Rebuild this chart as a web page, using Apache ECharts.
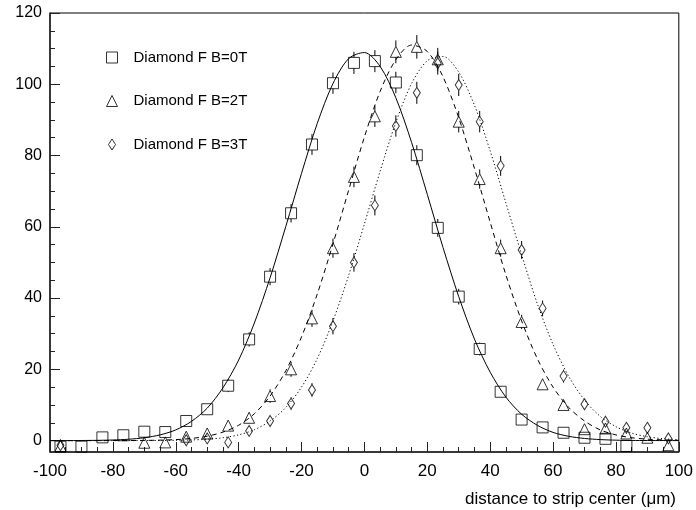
<!DOCTYPE html>
<html>
<head>
<meta charset="utf-8">
<script src="https://cdn.jsdelivr.net/npm/echarts@6/dist/echarts.min.js"></script>
<style>
html,body{margin:0;padding:0;background:#fff;}
#chart{width:696px;height:510px;}
</style>
</head>
<body>
<div id="chart"></div>
<script>
// Bin centres (distance to strip centre, µm)
var xBins = [-96.67,-90,-83.33,-76.67,-70,-63.33,-56.67,-50,-43.33,-36.67,-30,-23.33,-16.67,-10,-3.33,3.33,10,16.67,23.33,30,36.67,43.33,50,56.67,63.33,70,76.67,83.33,90,96.67];
// Measured points
var b0T = [-1.7,-1.7,0.9,1.5,2.5,2.4,5.5,8.8,15.4,28.4,46,63.8,83.1,100.3,106,106.5,100.5,80.1,59.7,40.4,25.7,13.7,5.9,3.7,2.2,0.8,0.5,-1.5,-4,-4];
var b2T = [-1.5,-4,-4,-4,-0.6,-0.5,1.1,2.0,4.2,6.4,12.5,20,34.3,54,74,91,109.1,110.5,107,89.5,73.4,54,33.3,15.8,10,3.2,3.4,2,0.8,-1.3];
var b3T = [-1.3,-4,-4,-4,-4,-4,0.1,0.6,-0.5,2.7,5.5,10.4,14.2,32.1,50,66,88.3,97.6,105.9,99.8,89.5,77.1,53.5,37.1,18.1,10.2,5.3,3.6,3.6,0.6];
// Error half-lengths (estimated)
var e0T = [1,1,1,1,1,1,1.2,1.5,1.8,2,2.4,2.6,2.9,3,3.1,3.1,3,2.8,2.5,2.2,1.8,1.5,1.2,1,1,1,1,1,1,1];
var e2T = [1,1,1,1,1,1,1,1.2,1.4,1.6,1.9,2.1,2.4,2.7,2.9,3,3.2,3.3,3.2,3,2.7,2.4,2,1.6,1.4,1.2,1.2,1,1,1];
var e3T = [1,1,1,1,1,1,1,1,1,1.2,1.4,1.7,1.9,2.3,2.6,2.8,3,3.1,3.2,3.1,3,2.8,2.5,2.2,1.8,1.5,1.3,1.2,1.2,1];
// Fit curves
var fitX = [-100,-95,-90,-85,-80,-75,-70,-65,-60,-55,-50,-45,-40,-35,-30,-25,-20,-15,-10,-5,0,5,10,15,20,25,30,35,40,45,50,55,60,65,70,75,80,85,90,95,100];
var fit0T = [0,0,0.03,0.07,0.17,0.38,0.8,1.6,3.0,5.4,9.1,14.8,22.6,33,45.7,60.1,75,89,100.2,107.2,108.9,105,96.2,83.7,69.1,54.2,40.4,28.5,19.2,12.2,7.4,4.3,2.3,1.2,0.6,0.28,0.12,0.05,0.02,0.01,0];
var fit2T = [0,0,0,0,0.01,0.02,0.05,0.13,0.28,0.61,1.23,2.38,4.3,7.55,12.5,19.6,29.1,41.1,55.2,70.3,85.2,98,106.9,111,109.2,102.1,90.6,76.4,61.3,46.5,33.6,23,15,9.3,5.5,3.0,1.6,0.8,0.4,0.2,0.08];
var fit3T = [0,0,0,0,0,0,0.01,0.03,0.08,0.18,0.39,0.81,1.62,3.05,5.5,9.3,15,23,33.6,46.4,60.8,75.6,89.3,100.2,106.6,107.8,103.4,94.1,81.3,66.7,52.2,38.4,27,18,11.4,6.8,3.9,2.1,1.08,0.52,0.24];
// Axis ticks
var yMajor = [0,20,40,60,80,100,120];
var yMinor = [5,10,15,25,30,35,45,50,55,65,70,75,85,90,95,105,110,115];
var seriesNames = ['Diamond F B=0T','Diamond F B=2T','Diamond F B=3T'];
var xTitle = 'distance to strip center (\u03bcm)';

function pairs(xs, ys){ return xs.map(function(x,i){ return [x, ys[i]]; }); }
function triples(xs, ys, es){ return xs.map(function(x,i){ return [x, ys[i], es[i]]; }); }

var FONT = '"Liberation Sans", Arial, Helvetica, sans-serif';
var diamondPath = 'path://M3.5,0L7,5.5L3.5,11L0,5.5Z';
var hollow = {color:'rgba(0,0,0,0)', borderColor:'#000', borderWidth:1};
var HALF = 5.5; // marker half height in px: error bars start outside the marker

function errSeries(data){
  return {
    type:'custom', data:data, clip:true, silent:true, z:2,
    renderItem:function(params, api){
      var x = api.value(0), y = api.value(1), e = api.value(2);
      var pc = api.coord([x, y]);
      var pTop = api.coord([x, y + e]);
      var pBot = api.coord([x, y - e]);
      var children = [];
      if (pTop[1] < pc[1] - HALF) {
        children.push({type:'line', shape:{x1:pc[0], y1:pTop[1], x2:pc[0], y2:pc[1] - HALF},
                       style:{stroke:'#000', lineWidth:1}});
      }
      if (pBot[1] > pc[1] + HALF) {
        children.push({type:'line', shape:{x1:pc[0], y1:pc[1] + HALF, x2:pc[0], y2:pBot[1]},
                       style:{stroke:'#000', lineWidth:1}});
      }
      return {type:'group', children:children};
    }
  };
}

var legendItemStyle = {color:'rgba(0,0,0,0)', borderColor:'#000', borderWidth:1};

var chart = echarts.init(document.getElementById('chart'), null, {renderer:'canvas'});
chart.setOption({
  animation:false,
  backgroundColor:'#fff',
  textStyle:{fontFamily:FONT},
  grid:{left:50, right:15, top:13, bottom:58, show:true, borderColor:'#000', borderWidth:1, backgroundColor:'transparent'},
  title:{text:xTitle, right:15, top:486, textStyle:{fontFamily:FONT, fontSize:17, fontWeight:'normal', color:'#000'}},
  legend:{
    orient:'vertical', left:101, top:45, itemWidth:11, itemHeight:11, itemGap:28.5,
    itemStyle:legendItemStyle,
    textStyle:{fontFamily:FONT, fontSize:15, color:'#000', padding:[0,0,0,11]},
    data:[
      {name:seriesNames[0], icon:'rect', itemStyle:legendItemStyle},
      {name:seriesNames[1], icon:'triangle', itemStyle:legendItemStyle},
      {name:seriesNames[2], icon:diamondPath, itemStyle:legendItemStyle}
    ]
  },
  xAxis:{
    type:'value', min:-100, max:100, interval:20,
    axisLine:{show:true, onZero:false, lineStyle:{color:'#222', width:1.5}},
    axisTick:{show:true, inside:true, length:10, lineStyle:{color:'#222'}},
    minorTick:{show:true, splitNumber:4, length:5, lineStyle:{color:'#222'}},
    splitLine:{show:false},
    axisLabel:{fontFamily:FONT, fontSize:17, color:'#000', margin:11}
  },
  yAxis:[{
    type:'value', min:-3.2, max:120,
    axisLine:{show:true, onZero:false, lineStyle:{color:'#222', width:1.5}},
    axisTick:{show:true, inside:true, length:10, customValues:yMajor, lineStyle:{color:'#222'}},
    axisLabel:{fontFamily:FONT, fontSize:16, color:'#000', margin:8, customValues:yMajor},
    splitLine:{show:false}
  },{
    type:'value', min:-3.2, max:120, position:'left',
    axisLine:{show:false, onZero:false},
    axisTick:{show:true, inside:true, length:5, customValues:yMinor, lineStyle:{color:'#222'}},
    axisLabel:{show:false},
    splitLine:{show:false}
  }],
  series:[
    {name:'fit0', type:'line', data:pairs(fitX, fit0T), showSymbol:false, symbol:'none', smooth:0.3,
     lineStyle:{color:'#000', width:1, type:'solid'}, silent:true, z:1},
    {name:'fit2', type:'line', data:pairs(fitX, fit2T), showSymbol:false, symbol:'none', smooth:0.3,
     lineStyle:{color:'#000', width:1, type:[5,4]}, silent:true, z:1},
    {name:'fit3', type:'line', data:pairs(fitX, fit3T), showSymbol:false, symbol:'none', smooth:0.3,
     lineStyle:{color:'#000', width:1, type:[1.2,2.4]}, silent:true, z:1},
    errSeries(triples(xBins, b0T, e0T)),
    errSeries(triples(xBins, b2T, e2T)),
    errSeries(triples(xBins, b3T, e3T)),
    {name:seriesNames[0], type:'scatter', data:pairs(xBins, b0T), symbol:'rect', symbolSize:11, itemStyle:hollow, z:3},
    {name:seriesNames[1], type:'scatter', data:pairs(xBins, b2T), symbol:'triangle', symbolSize:[11,11], itemStyle:hollow, z:3},
    {name:seriesNames[2], type:'scatter', data:pairs(xBins, b3T), symbol:diamondPath, symbolSize:[7,11], itemStyle:hollow, z:3}
  ]
});
</script>
</body>
</html>
